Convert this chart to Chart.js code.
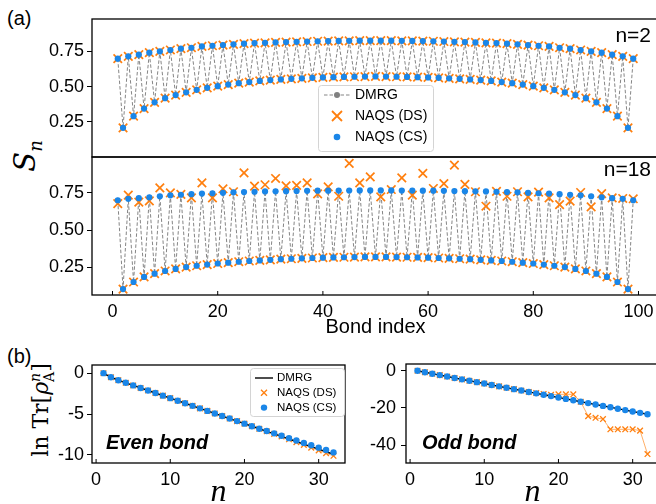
<!DOCTYPE html>
<html lang="en">
<head>
<meta charset="UTF-8">
<title>Renyi entropy</title>
<script src="https://cdn.jsdelivr.net/npm/chart.js"></script>
<style>
  html, body { margin: 0; padding: 0; width: 656px; height: 504px; overflow: hidden; background: #fff; }
  canvas { position: absolute; }
  .lbl { position: absolute; font-family: 'Liberation Sans', Arial, sans-serif; color: #000; white-space: nowrap; line-height: 1; }
  .rot { position: absolute; white-space: nowrap; line-height: 1; transform: translate(-50%, -50%) rotate(-90deg); color: #000; }
</style>
</head>
<body>

<div class="lbl" style="left:7px;top:8px;font-size:20px">(a)</div>
<div class="lbl" style="left:7px;top:346px;font-size:20px">(b)</div>
<div class="rot" style="left:27px;top:156px;font:italic 29px 'DejaVu Serif',serif">S<sub style="font-size:18px">n</sub></div>
<div class="rot" style="left:42px;top:410px;font:22px 'DejaVu Serif',serif">ln Tr[<i>ρ</i><span style="display:inline-block;vertical-align:-0.4em;line-height:0.95;font-size:14px"><i>n</i><br>A</span>]</div>

<canvas id="aTop" width="664" height="160" style="left:0;top:0"></canvas>
<canvas id="aBot" width="664" height="190" style="left:0;top:150px"></canvas>
<canvas id="bLeft" width="350" height="180" style="left:0;top:340px"></canvas>
<canvas id="bRight" width="340" height="180" style="left:330px;top:340px"></canvas>

<script>
  // ---- data (a): S_n per bond, odd bonds 1,3,...,99 and even bonds 2,4,...,98
  var n2Odd = [0.698, 0.715, 0.727, 0.741, 0.750, 0.760, 0.769, 0.776, 0.785, 0.790, 0.795, 0.800, 0.805, 0.809, 0.811, 0.814, 0.816, 0.818, 0.820, 0.822, 0.823, 0.824, 0.825, 0.826, 0.826,
               0.826, 0.826, 0.825, 0.824, 0.823, 0.822, 0.820, 0.818, 0.816, 0.814, 0.811, 0.809, 0.805, 0.800, 0.795, 0.790, 0.785, 0.776, 0.769, 0.760, 0.750, 0.741, 0.727, 0.715, 0.698];
  var n2Even = [0.207, 0.290, 0.344, 0.388, 0.418, 0.440, 0.459, 0.477, 0.491, 0.503, 0.514, 0.524, 0.532, 0.540, 0.546, 0.551, 0.555, 0.559, 0.562, 0.565, 0.567, 0.569, 0.570, 0.571,
                0.572,
                0.571, 0.570, 0.569, 0.567, 0.565, 0.562, 0.559, 0.555, 0.551, 0.546, 0.540, 0.532, 0.524, 0.514, 0.503, 0.491, 0.477, 0.459, 0.440, 0.418, 0.388, 0.344, 0.290, 0.207];

  var n18Odd = [0.700, 0.710, 0.714, 0.720, 0.727, 0.733, 0.737, 0.741, 0.745, 0.747, 0.750, 0.753, 0.755, 0.757, 0.759, 0.760, 0.761, 0.762, 0.763, 0.764, 0.764, 0.765, 0.765, 0.766, 0.766,
                0.766, 0.766, 0.765, 0.765, 0.764, 0.764, 0.763, 0.762, 0.761, 0.760, 0.759, 0.757, 0.755, 0.753, 0.750, 0.747, 0.745, 0.741, 0.737, 0.733, 0.727, 0.720, 0.714, 0.710, 0.700];
  var n18OddDS = [0.678, 0.734, 0.687, 0.696, 0.783, 0.750, 0.739, 0.716, 0.817, 0.716, 0.777, 0.757, 0.884, 0.795, 0.804, 0.846, 0.797, 0.800, 0.817, 0.743, 0.790, 0.727, 0.947, 0.817, 0.857,
                  0.723, 0.772, 0.850, 0.734, 0.880, 0.779, 0.812, 0.935, 0.806, 0.757, 0.660, 0.760, 0.727, 0.757, 0.723, 0.755, 0.716, 0.671, 0.694, 0.752, 0.656, 0.745, 0.716, 0.712, 0.710];
  var n18Even = [0.105, 0.152, 0.186, 0.208, 0.226, 0.240, 0.252, 0.261, 0.269, 0.276, 0.282, 0.288, 0.293, 0.297, 0.301, 0.305, 0.308, 0.311, 0.313, 0.315, 0.317, 0.318, 0.319, 0.320,
                 0.320,
                 0.320, 0.319, 0.318, 0.317, 0.315, 0.313, 0.311, 0.308, 0.305, 0.301, 0.297, 0.293, 0.288, 0.282, 0.276, 0.269, 0.261, 0.252, 0.240, 0.226, 0.208, 0.186, 0.152, 0.105];

  var bondTicks = [0, 20, 40, 60, 80, 100];
  var sTicks = [0.25, 0.5, 0.75];

  // ---- data (b): ln Tr[rho_A^n] against n
  var nVals = [1, 2, 3, 4, 5, 6, 7, 8, 9, 10, 11, 12, 13, 14, 15, 16, 17, 18, 19, 20, 21, 22, 23, 24, 25, 26, 27, 28, 29, 30, 31, 32];
  var evenDmrg = [0, -0.50, -0.86, -1.18, -1.50, -1.81, -2.12, -2.43, -2.75, -3.06, -3.37, -3.68, -4.00, -4.31, -4.62, -4.93,
                  -5.25, -5.56, -5.87, -6.18, -6.50, -6.81, -7.12, -7.43, -7.75, -8.06, -8.37, -8.68, -9.00, -9.31, -9.62, -9.93];
  var evenCs = [0, -0.50, -0.86, -1.18, -1.50, -1.81, -2.12, -2.43, -2.75, -3.06, -3.37, -3.68, -4.00, -4.31, -4.62, -4.93,
                -5.25, -5.56, -5.87, -6.18, -6.50, -6.81, -7.08, -7.37, -7.67, -7.96, -8.25, -8.54, -8.83, -9.12, -9.41, -9.70];
  var evenDs = [0, -0.50, -0.86, -1.18, -1.50, -1.81, -2.12, -2.43, -2.75, -3.06, -3.37, -3.68, -4.00, -4.31, -4.62, -4.93,
                -5.25, -5.56, -5.87, -6.18, -6.50, -6.81, -7.12, -7.43, -7.75, -8.10, -8.45, -8.78, -9.12, -9.45, -9.80, -10.12];
  var oddDmrg = [0, -0.83, -1.60, -2.37, -3.13, -3.89, -4.65, -5.41, -6.16, -6.91, -7.66, -8.41, -9.16, -9.91, -10.66, -11.41,
                 -12.16, -12.91, -13.66, -14.41, -15.16, -15.91, -16.66, -17.41, -18.16, -18.91, -19.66, -20.41, -21.16, -21.91, -22.66, -23.41];
  var oddCs = oddDmrg;
  var oddDs = [0, -0.83, -1.60, -2.37, -3.13, -3.89, -4.65, -5.41, -6.16, -6.91, -7.66, -8.41, -9.16, -9.91, -10.66, -11.41,
               -12.0, -12.5, -13.0, -12.7, -12.7, -12.7, -16.7, -24.4, -25.3, -26.0, -31.5, -31.5, -31.5, -31.5, -32.2, -44.8];
  var nTicks = [0, 10, 20, 30];
  var evenTicks = [0, -5, -10];
  var oddTicks = [0, -20, -40];

  var FONT = "'Liberation Sans', Arial, sans-serif";
  var BLUE = '#1a86e8';
  var ORANGE = '#ff7f0e';
  var GREY = 'rgba(120,120,120,0.9)';

  function interleave(odd, even) {
    var out = [];
    for (var i = 0; i < odd.length; i++) {
      out.push({ x: 2 * i + 1, y: odd[i] });
      if (i < even.length) out.push({ x: 2 * i + 2, y: even[i] });
    }
    return out;
  }
  function pairs(xs, ys) {
    return xs.map(function (x, i) { return { x: x, y: ys[i] }; });
  }

  // frame round the plot area + short inward ticks on x
  var framePlugin = {
    id: 'frame',
    afterDatasetsDraw: function (chart) {
      var a = chart.chartArea, ctx = chart.ctx, xs = chart.scales.x;
      ctx.save();
      ctx.strokeStyle = '#000';
      ctx.lineWidth = 1.3;
      ctx.strokeRect(a.left, a.top, a.right - a.left, a.bottom - a.top);
      if (xs.options.display) {
        ctx.lineWidth = 1;
        xs.ticks.forEach(function (t) {
          var px = xs.getPixelForValue(t.value);
          ctx.beginPath(); ctx.moveTo(px, a.bottom); ctx.lineTo(px, a.bottom - 4); ctx.stroke();
        });
      }
      ctx.restore();
    }
  };

  var notesPlugin = {
    id: 'notes',
    afterDraw: function (chart, args, o) {
      var ctx = chart.ctx;
      (o.items || []).forEach(function (it) {
        ctx.save();
        ctx.font = it.font;
        ctx.fillStyle = '#000';
        ctx.textAlign = it.align || 'left';
        ctx.textBaseline = 'middle';
        ctx.fillText(it.text, it.x, it.y);
        ctx.restore();
      });
    }
  };

  // legend box drawn at a fixed place
  var boxLegend = {
    id: 'boxLegend',
    afterDraw: function (chart, args, o) {
      if (!o.box) return;
      var ctx = chart.ctx, b = o.box;
      ctx.save();
      ctx.fillStyle = 'rgba(255,255,255,0.88)';
      ctx.strokeStyle = '#d4d4d4';
      ctx.lineWidth = 1;
      ctx.beginPath();
      ctx.roundRect(b[0] + 0.5, b[1] + 0.5, b[2], b[3], 3);
      ctx.fill(); ctx.stroke();
      ctx.font = o.font;
      ctx.textBaseline = 'middle';
      o.rows.forEach(function (r, i) {
        var ds = chart.data.datasets[r.ds];
        var y = b[1] + o.top + i * o.gap;
        var cx = b[0] + o.mark;
        if (r.line) {
          ctx.save();
          ctx.strokeStyle = ds.borderColor;
          ctx.lineWidth = r.lw || ds.borderWidth;
          ctx.setLineDash(ds.borderDash || []);
          ctx.beginPath(); ctx.moveTo(cx - o.half, y); ctx.lineTo(cx + o.half, y); ctx.stroke();
          ctx.restore();
        }
        if (r.dot) {
          ctx.fillStyle = r.dot;
          ctx.beginPath(); ctx.arc(cx, y, r.r, 0, Math.PI * 2); ctx.fill();
        }
        if (r.cross) {
          ctx.strokeStyle = r.cross;
          ctx.lineWidth = r.w;
          ctx.beginPath();
          ctx.moveTo(cx - r.r, y - r.r); ctx.lineTo(cx + r.r, y + r.r);
          ctx.moveTo(cx - r.r, y + r.r); ctx.lineTo(cx + r.r, y - r.r);
          ctx.stroke();
        }
        ctx.fillStyle = '#000';
        ctx.fillText(ds.label, b[0] + o.text, y);
      });
      ctx.restore();
    }
  };

  function fixTicks(list) {
    return function (s) { s.ticks = list.map(function (v) { return { value: v }; }); };
  }
  function yScale(min, max, list, yw, pad, fmt) {
    return {
      type: 'linear', min: min, max: max,
      afterBuildTicks: fixTicks(list),
      afterFit: function (s) { s.width = yw; s.paddingTop = 0; s.paddingBottom = 0; },
      grid: { display: true, drawOnChartArea: false, drawTicks: true, tickLength: 5, color: '#000', lineWidth: 1 },
      border: { display: false },
      ticks: { color: '#000', font: { family: FONT, size: 18 }, padding: pad, callback: fmt }
    };
  }
  function xScale(min, max, list, xh, show, title) {
    return {
      type: 'linear', min: min, max: max, display: show,
      afterBuildTicks: fixTicks(list),
      afterFit: function (s) { s.height = xh; s.paddingLeft = 0; s.paddingRight = 0; },
      grid: { display: false, drawTicks: false },
      border: { display: false },
      ticks: { color: '#000', font: { family: FONT, size: 18 }, padding: 6, maxRotation: 0, autoSkip: false },
      title: title || { display: false }
    };
  }
  function two(v) { return v.toFixed(2); }
  function plain(v) { return String(v); }

  function panelA(id, odd, oddDs, even, ylo, yhi, pad, xshow, xh, title, notes, legend) {
    return new Chart(document.getElementById(id), {
      type: 'scatter',
      data: {
        datasets: [
          { label: 'NAQS (CS)', data: interleave(odd, even), pointStyle: 'circle', pointRadius: 3.1,
            pointBackgroundColor: BLUE, pointBorderWidth: 0, borderColor: BLUE, clip: false },
          { label: 'NAQS (DS)', data: interleave(oddDs, even), pointStyle: 'crossRot', pointRadius: 6,
            pointBorderColor: ORANGE, pointBorderWidth: 1.7, borderColor: ORANGE, clip: false },
          { label: 'DMRG', data: interleave(odd, even), showLine: true, borderColor: GREY, borderWidth: 1,
            borderDash: [3.5, 2], pointRadius: 2.5, pointBackgroundColor: '#808080', pointBorderWidth: 0, clip: false }
        ]
      },
      options: {
        responsive: false, animation: false, events: [],
        layout: { padding: pad, autoPadding: false },
        scales: {
          x: xScale(-3.9, 103.9, bondTicks, xh, xshow, title),
          y: yScale(ylo, yhi, sTicks, 92, 3, two)
        },
        plugins: { legend: { display: false }, tooltip: { enabled: false }, notes: { items: notes }, boxLegend: legend }
      },
      plugins: [framePlugin, notesPlugin, boxLegend]
    });
  }

  panelA('aTop', n2Odd, n2Odd, n2Even, 0, 0.98, { top: 19, right: 5, bottom: 3, left: 0 }, false, 0, null,
    [{ text: 'n=2', x: 651, y: 36, font: '21px ' + FONT, align: 'right' }],
    { box: [318, 85, 115, 66], font: '14px ' + FONT, top: 10, gap: 21, mark: 19, half: 13, text: 37,
      rows: [{ ds: 2, line: true, dot: '#808080', r: 3 }, { ds: 1, cross: ORANGE, r: 5, w: 1.8 }, { ds: 0, dot: BLUE, r: 3.3 }] });

  panelA('aBot', n18Odd, n18OddDS, n18Even, 0.065, 0.99, { top: 7, right: 5, bottom: 0, left: 0 }, true, 45,
    { display: true, text: 'Bond index', color: '#000', font: { family: FONT, size: 20 }, padding: { top: 0, bottom: 1 } },
    [{ text: 'n=18', x: 651, y: 20, font: '21px ' + FONT, align: 'right' }], {});

  function panelB(id, cs, ds, dmrg, ylo, yhi, yList, yw, ypad, pad, notes, legend) {
    return new Chart(document.getElementById(id), {
      type: 'scatter',
      data: {
        datasets: [
          { label: 'NAQS (CS)', data: pairs(nVals, cs), pointStyle: 'circle', pointRadius: 3.2,
            pointBackgroundColor: BLUE, pointBorderWidth: 0, borderColor: BLUE, clip: false },
          { label: 'DMRG', data: pairs(nVals, dmrg), showLine: true, borderColor: '#000', borderWidth: 1.4,
            pointRadius: 0, clip: false },
          { label: 'NAQS (DS)', data: pairs(nVals, ds), showLine: true, borderColor: 'rgba(255,127,14,0.7)', borderWidth: 0.9,
            pointStyle: 'crossRot', pointRadius: 4, pointBorderColor: ORANGE, pointBorderWidth: 1.3, clip: false }
        ]
      },
      options: {
        responsive: false, animation: false, events: [],
        layout: { padding: pad, autoPadding: false },
        scales: {
          x: xScale(-0.55, 33.55, nTicks, 57, true,
            { display: true, text: 'n', color: '#000', font: { family: "'Liberation Serif', serif", size: 32, style: 'italic' }, padding: { top: 0, bottom: 8 } }),
          y: yScale(ylo, yhi, yList, yw, ypad, plain)
        },
        plugins: { legend: { display: false }, tooltip: { enabled: false }, notes: { items: notes }, boxLegend: legend }
      },
      plugins: [framePlugin, notesPlugin, boxLegend]
    });
  }

  panelB('bLeft', evenCs, evenDs, evenDmrg, -11, 1, evenTicks, 92, 3, { top: 25, right: 5, bottom: 0, left: 0 },
    [{ text: 'Even bond', x: 106, y: 103, font: 'italic bold 20px ' + FONT }],
    { box: [250, 28, 94, 48], font: '11.5px ' + FONT, top: 10, gap: 14.8, mark: 14, half: 9, text: 27,
      rows: [{ ds: 1, line: true, lw: 1.4 }, { ds: 2, cross: ORANGE, r: 3, w: 1.3 }, { ds: 0, dot: BLUE, r: 3.2 }] });

  panelB('bRight', oddCs, oddDs, oddDmrg, -49.6, 3.6, oddTicks, 76, 5, { top: 24, right: 11, bottom: 0, left: 0 },
    [{ text: 'Odd bond', x: 92, y: 103, font: 'italic bold 20px ' + FONT }], {});
</script>
</body>
</html>
